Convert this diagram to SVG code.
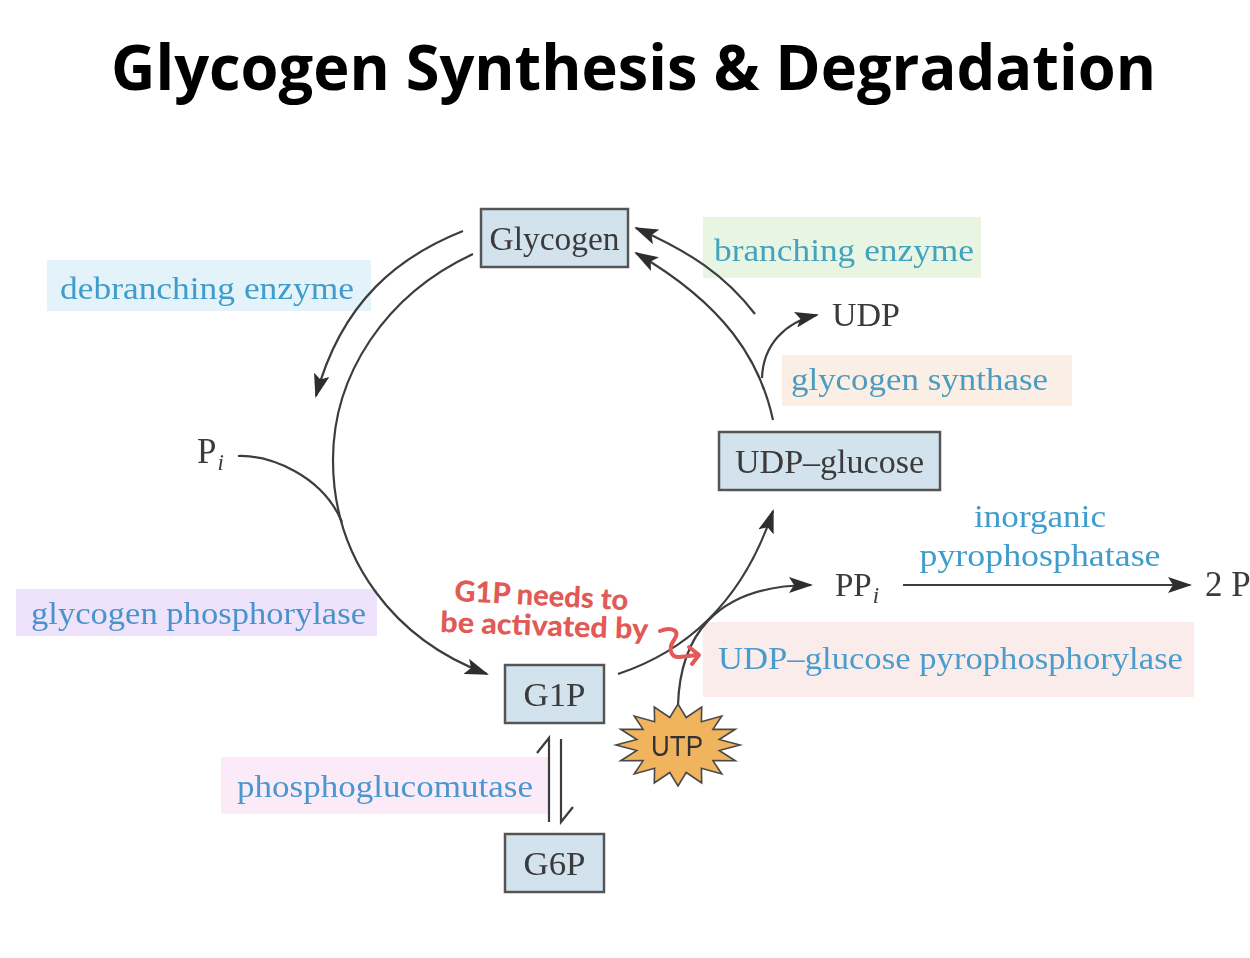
<svg xmlns="http://www.w3.org/2000/svg" width="1250" height="958" viewBox="0 0 1250 958">
<style>
.t{font-family:"Liberation Serif","DejaVu Serif",serif;font-size:33px;fill:#3a3a3a}
.e{font-family:"Liberation Serif","DejaVu Serif",serif;font-size:32px}
.b{fill:#d3e3ee;stroke:#555;stroke-width:2.5}
.c{fill:none;stroke:#3c3c3c;stroke-width:2.2}
.a{marker-end:url(#h)}
.r{font-family:"Lato","Liberation Sans",sans-serif;font-weight:900;font-size:29px;fill:#e25a55}
</style>
<defs>
<marker id="h" viewBox="0 0 24 16" refX="22" refY="8" markerWidth="24" markerHeight="16" markerUnits="userSpaceOnUse" orient="auto"><path d="M0,0L24,8L0,16L5,8Z" fill="#2f2f2f"/></marker>
<filter id="s" filterUnits="userSpaceOnUse" x="0" y="0" width="1250" height="958"><feGaussianBlur stdDeviation="0.5"/></filter>
</defs>
<rect width="1250" height="958" fill="#fff"/>
<text id="title" x="111" y="90" font-family="Open Sans,Noto Sans,sans-serif" font-weight="700" font-size="63" textLength="1045" lengthAdjust="spacingAndGlyphs" fill="#000">Glycogen Synthesis &amp; Degradation</text>
<g filter="url(#s)">
<g id="enzymes">
<g id="debranching-enzyme"><rect x="47" y="260" width="324" height="51" fill="#e3f3f9"/><text class="e" x="60" y="299" textLength="294" lengthAdjust="spacingAndGlyphs" fill="#3f9ccb">debranching enzyme</text></g>
<g id="branching-enzyme"><rect x="703" y="217" width="278" height="61" fill="#e8f5e3"/><text class="e" x="714" y="261" textLength="260" lengthAdjust="spacingAndGlyphs" fill="#42a3be">branching enzyme</text></g>
<g id="glycogen-synthase"><rect x="782" y="355" width="290" height="51" fill="#fbeee4"/><text class="e" x="791" y="390" textLength="257" lengthAdjust="spacingAndGlyphs" fill="#4b9cc0">glycogen synthase</text></g>
<g id="glycogen-phosphorylase"><rect x="16" y="589" width="361" height="47" fill="#eee3fa"/><text class="e" x="31" y="624" textLength="335" lengthAdjust="spacingAndGlyphs" fill="#4a93cd">glycogen phosphorylase</text></g>
<g id="phosphoglucomutase"><rect x="221" y="757" width="327" height="57" fill="#fbebf8"/><text class="e" x="237" y="797" textLength="296" lengthAdjust="spacingAndGlyphs" fill="#4a97cf">phosphoglucomutase</text></g>
<g id="udp-glucose-pyrophosphorylase"><rect x="703" y="622" width="491" height="75" fill="#fbecec"/><text class="e" x="718" y="669" textLength="465" lengthAdjust="spacingAndGlyphs" fill="#4a9ccb">UDP–glucose pyrophosphorylase</text></g>
<g id="inorganic-pyrophosphatase"><text class="e" x="1040" y="527" text-anchor="middle" textLength="132" lengthAdjust="spacingAndGlyphs" fill="#3f9ccb">inorganic</text><text class="e" x="1040" y="566" text-anchor="middle" textLength="241" lengthAdjust="spacingAndGlyphs" fill="#3f9ccb">pyrophosphatase</text></g>
</g>
<g id="connectors">
<path class="c a" d="M463,231C400,256 342,300 316,396"/>
<path class="c a" d="M473,254C385,295 333,375 333,460C333,560 395,640 487,674"/>
<path class="c" d="M238,456C270,455 322,475 342,522"/>
<path class="c a" d="M773,420C760,360 725,305 636,253"/>
<path class="c a" d="M755,314C725,275 690,252 636,228"/>
<path class="c a" d="M762,378C763,345 785,322 817,315"/>
<path class="c a" d="M618,674C660,660 735,625 773,511"/>
<path class="c a" d="M678,705C680,640 712,585 811,585"/>
<path class="c a" d="M903,585H1190"/>
<path class="c" d="M549,822V738L537,753"/>
<path class="c" d="M561,739V822L573,807"/>
</g>
<g id="glycogen"><rect class="b" x="481" y="209" width="147" height="58"/><text class="t" x="554.500" y="250" text-anchor="middle" textLength="130" lengthAdjust="spacingAndGlyphs">Glycogen</text></g>
<g id="udp-glucose"><rect class="b" x="719" y="432" width="221" height="58"/><text class="t" x="829.500" y="473" text-anchor="middle" textLength="189" lengthAdjust="spacingAndGlyphs">UDP–glucose</text></g>
<g id="g1p"><rect class="b" x="505" y="665" width="99" height="58"/><text class="t" x="554.500" y="706" text-anchor="middle" textLength="62" lengthAdjust="spacingAndGlyphs">G1P</text></g>
<g id="g6p"><rect class="b" x="505" y="834" width="99" height="58"/><text class="t" x="554.500" y="875" text-anchor="middle" textLength="62" lengthAdjust="spacingAndGlyphs">G6P</text></g>
<g id="udp"><text class="t" x="832" y="326" textLength="68" lengthAdjust="spacingAndGlyphs">UDP</text></g>
<g id="pi"><text class="t" x="197" y="463" font-size="35" style="font-size:35px">P<tspan font-style="italic" style="font-size:23px" dx="1" dy="7">i</tspan></text></g>
<g id="ppi"><text class="t" x="835" y="596">PP<tspan font-style="italic" style="font-size:23px" dx="1" dy="7">i</tspan></text></g>
<g id="two-pi"><text class="t" x="1205" y="596" style="font-size:35px">2 P</text></g>
<g id="utp"><polygon points="740,745 719.200,750.500 735.300,760.700 712.900,760.600 721.800,774 701.400,768.300 701.700,782.900 686.200,772.500 678,786 669.800,772.500 654.300,782.900 654.600,768.300 634.200,774 643.100,760.600 620.700,760.700 636.800,750.500 616,745 636.800,739.500 620.700,729.300 643.100,729.400 634.200,716 654.600,721.700 654.300,707.100 669.800,717.500 678,704 686.200,717.500 701.700,707.100 701.400,721.700 721.800,716 712.900,729.400 735.300,729.300 719.200,739.500" fill="#f0b45e" stroke="#4a4a4a" stroke-width="1.600"/><text x="677" y="756" text-anchor="middle" font-family="Liberation Sans,sans-serif" font-size="29" fill="#333" textLength="52" lengthAdjust="spacingAndGlyphs">UTP</text></g>
</g>
<g id="note">
<text class="r" x="454" y="601" transform="rotate(3 454 601)" textLength="174" lengthAdjust="spacingAndGlyphs">G1P needs to</text>
<text class="r" x="440" y="632" transform="rotate(2 440 632)" textLength="208" lengthAdjust="spacingAndGlyphs">be activated by</text>
<path d="M660,631C672,626 681,631 674,640C667,650 672,658 680,657L697,655M689,647L699,655L692,664" fill="none" stroke="#e25a55" stroke-width="4" stroke-linecap="round" stroke-linejoin="round"/>
</g>
</svg>
